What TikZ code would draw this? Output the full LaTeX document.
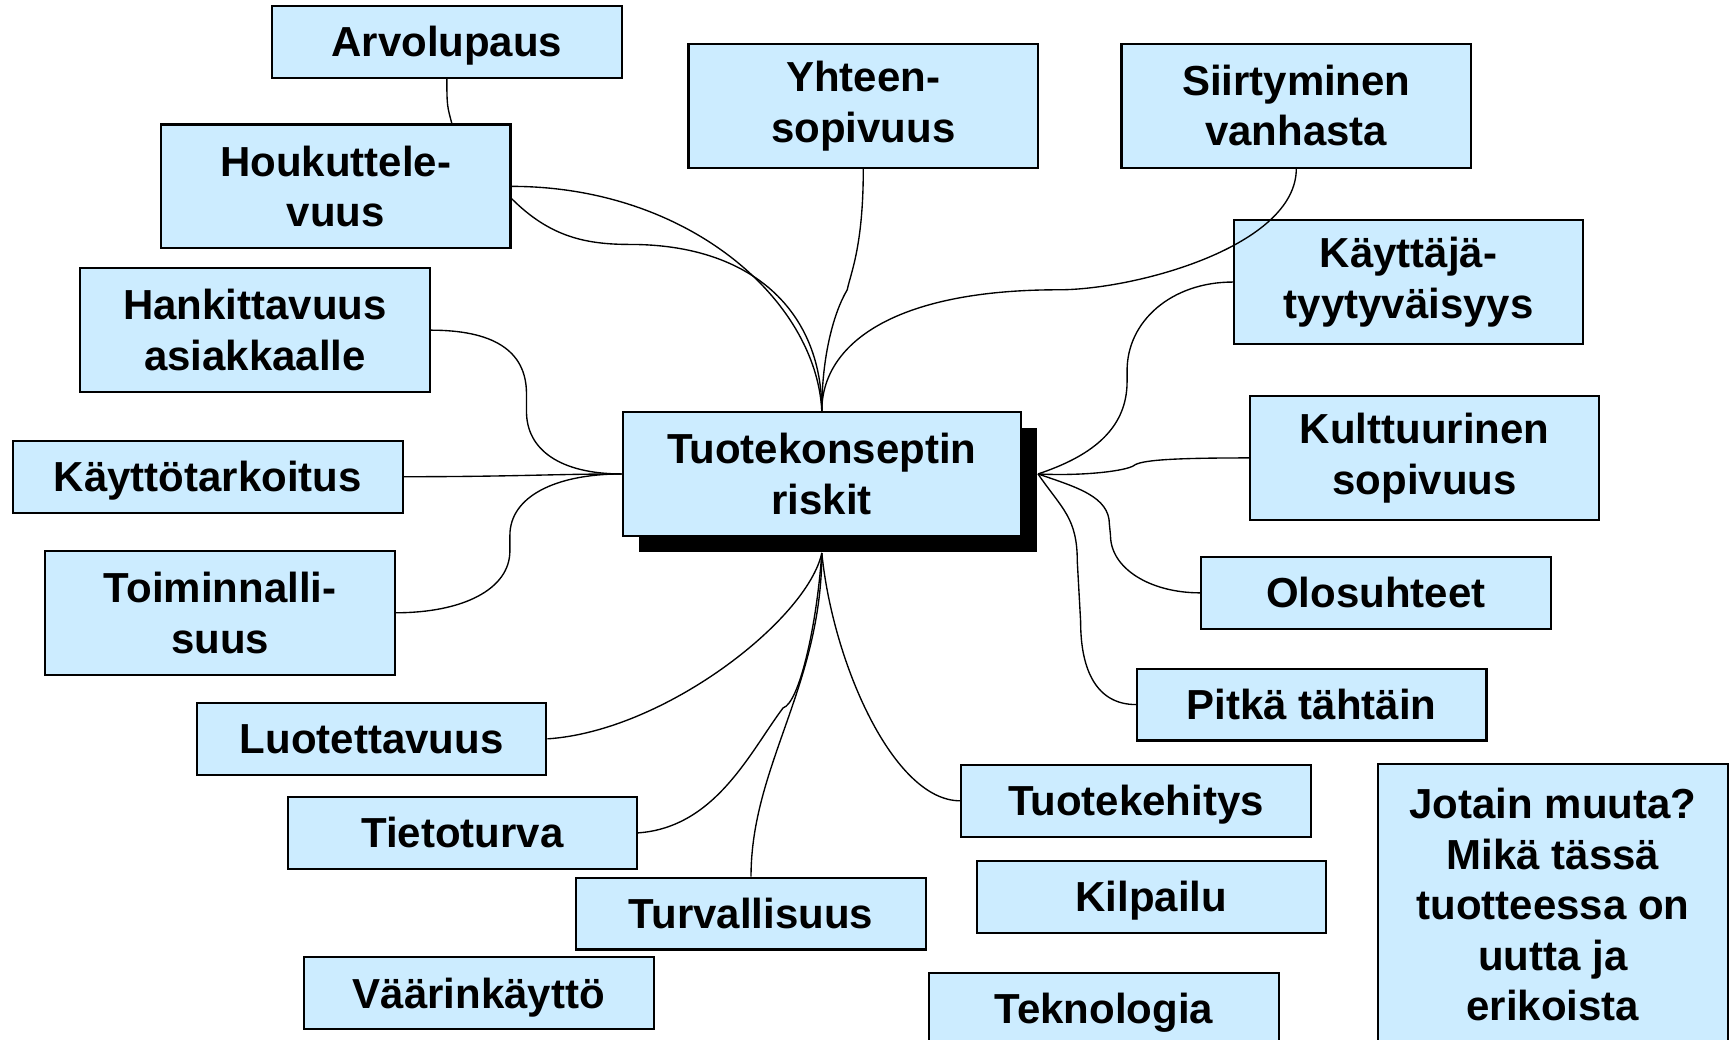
\documentclass[tikz,border=0pt]{standalone}
\usepackage{fontspec}
\setmainfont{Liberation Sans}
\usetikzlibrary{shadows}
\definecolor{paleblue}{RGB}{204,236,255}

\begin{document}
\begin{tikzpicture}[x=0.1mm,y=-0.1mm,
  card/.style={draw=black, line width=0.55pt, fill=paleblue, align=center, inner sep=0pt,
    minimum width=31.6mm, font=\fontsize{10.8}{13}\selectfont\bfseries},
  topic/.style={card, minimum height=6.5mm, text height=9.7pt, text depth=2pt},
  twoline/.style={card, minimum height=11.2mm},
  link/.style={black, line width=0.35pt}]
\useasboundingbox (0,0) rectangle (1565,940);
\node[topic] (arvo) at (404,38) {Arvolupaus};
\node[twoline] (yht) at (780.5,96) {Yhteen-\\sopivuus};
\node[twoline] (siir) at (1172,95.5) {Siirtyminen\\vanhasta};
\node[twoline] (houk) at (303.5,168.5) {Houkuttele-\\vuus};
\node[twoline] (kayt) at (1273.5,255) {Käyttäjä-\\tyytyväisyys};
\node[twoline] (hank) at (230.5,298.5) {Hankittavuus\\asiakkaalle};
\node[twoline, minimum width=36mm, general shadow={fill=black, shadow xshift=1.45mm, shadow yshift=-1.45mm}] (riski) at (743,428.5) {Tuotekonseptin\\riskit};
\node[twoline] (kult) at (1288,414) {Kulttuurinen\\sopivuus};
\node[topic, minimum width=35.2mm] (kayto) at (188,431) {Käyttötarkoitus};
\node[twoline] (toim) at (199,554) {Toiminnalli-\\suus};
\node[topic] (olo) at (1244,536) {Olosuhteet};
\node[topic] (pit) at (1186,637) {Pitkä tähtäin};
\node[topic] (luot) at (336,668) {Luotettavuus};
\node[topic] (tuotek) at (1027,724) {Tuotekehitys};
\node[topic] (tiet) at (418,753) {Tietoturva};
\node[card, minimum height=25.4mm] (jot) at (1404,818) {Jotain muuta?\\Mikä tässä\\tuotteessa on\\uutta ja\\erikoista};
\node[topic] (kilp) at (1041,811) {Kilpailu};
\node[topic] (turv) at (679,826) {Turvallisuus};
\node[topic] (vaar) at (433,898) {Väärinkäyttö};
\node[topic] (tekn) at (998,912) {Teknologia};
\coordinate (riskiE) at ([xshift=1.45mm]riski.east);
\coordinate (riskiS) at ([yshift=-1.45mm]riski.south);
\draw[link] (arvo.south) .. controls +(0,25) and +(-4,-15) .. ([xshift=10.5mm]houk.north);
\draw[link] (houk.east) .. controls +(160,0) and +(-5,-100) .. (riski.north);
\draw[link] ([yshift=-1.1mm]houk.east) .. controls +(35,35) and +(-40,0) .. (570,221) .. controls +(110,0) and +(0,-90) .. (riski.north);
\draw[link] (yht.south) .. controls +(0,70) and +(3,-15) .. (766,262) .. controls +(-12,20) and +(0,-50) .. (riski.north);
\draw[link] (siir.south) .. controls +(0,70) and +(70,0) .. (957,262) .. controls +(-150,0) and +(0,-60) .. (riski.north);
\draw[link] (kayt.west) .. controls +(-55,0) and +(0,-45) .. (1019,335) -- (1019,345) .. controls +(0,45) and +(45,-15) .. (riskiE);
\draw[link] (kult.west) .. controls +(-70,0) and +(6,-5) .. (1025,421) .. controls +(-8,5) and +(40,2) .. (riskiE);
\draw[link] (olo.west) .. controls +(-45,0) and +(0,30) .. (1004,484) -- (1003,474) .. controls +(0,-25) and +(35,12) .. (riskiE);
\draw[link] (pit.west) .. controls +(-35,0) and +(0,45) .. (977,562) -- (974,508) .. controls +(0,-40) and +(22,32) .. (riskiE);
\draw[link] (tuotek.west) .. controls +(-60,0) and +(10,100) .. (riskiS);
\draw[link] (hank.east) .. controls +(55,0) and +(0,-40) .. (476,356) -- (476,372) .. controls +(0,35) and +(-55,0) .. (riski.west);
\draw[link] (kayto.east) .. controls +(100,0) and +(-60,0) .. (riski.west);
\draw[link] (toim.east) .. controls +(60,0) and +(0,35) .. (461,498) -- (461,484) .. controls +(0,-35) and +(-60,0) .. (riski.west);
\draw[link] (luot.east) .. controls +(106,-7) and +(-13,60) .. (riskiS);
\draw[link] (tiet.east) .. controls +(70,-5) and +(-30,40) .. (708,640) .. controls +(14,-4) and +(-5,70) .. (riskiS);
\draw[link] (turv.north) .. controls +(0,-100) and +(0,120) .. (riskiS);
\end{tikzpicture}
\end{document}
